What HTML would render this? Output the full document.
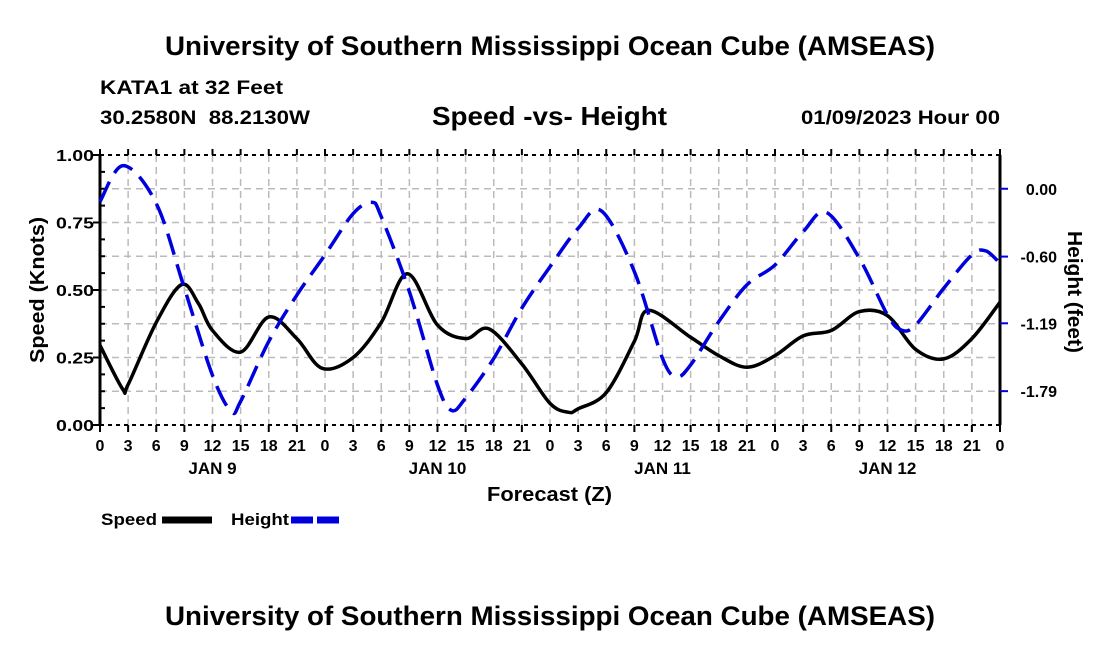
<!DOCTYPE html>
<html><head><meta charset="utf-8"><style>
body{margin:0;background:#fff;font-family:"Liberation Sans",Arial,sans-serif}
svg text{font-family:"Liberation Sans",Arial,sans-serif;font-weight:bold}
</style></head><body>
<svg id="c" width="1100" height="650" viewBox="0 0 1100 650" xmlns="http://www.w3.org/2000/svg">
<text x="165" y="55" font-size="27" textLength="770" lengthAdjust="spacingAndGlyphs">University of Southern Mississippi Ocean Cube (AMSEAS)</text>
<text x="100" y="94" font-size="19" textLength="183" lengthAdjust="spacingAndGlyphs">KATA1 at 32 Feet</text>
<text x="100" y="124" font-size="19" textLength="210" lengthAdjust="spacingAndGlyphs" xml:space="preserve">30.2580N  88.2130W</text>
<text x="432" y="125" font-size="26" textLength="235" lengthAdjust="spacingAndGlyphs">Speed -vs- Height</text>
<text x="801" y="124" font-size="19" textLength="199" lengthAdjust="spacingAndGlyphs">01/09/2023 Hour 00</text>
<g id="grid"></g>
<g id="axes"></g>
<g id="series"></g>
<text x="487" y="501" font-size="20" textLength="125" lengthAdjust="spacingAndGlyphs">Forecast (Z)</text>
<text transform="translate(44,290) rotate(-90)" text-anchor="middle" font-size="20" textLength="146" lengthAdjust="spacingAndGlyphs">Speed (Knots)</text>
<text transform="translate(1068,292) rotate(90)" text-anchor="middle" font-size="20" textLength="122" lengthAdjust="spacingAndGlyphs">Height (feet)</text>
<g>
<text x="101" y="525" font-size="17" textLength="56" lengthAdjust="spacingAndGlyphs">Speed</text>
<line x1="162" y1="520" x2="212" y2="520" stroke="#000" stroke-width="7"/>
<text x="231" y="525" font-size="17" textLength="58" lengthAdjust="spacingAndGlyphs">Height</text>
<line x1="291" y1="520" x2="343" y2="520" stroke="#0000dd" stroke-width="7" stroke-dasharray="22,4"/>
</g>
<text x="165" y="625" font-size="27" textLength="770" lengthAdjust="spacingAndGlyphs">University of Southern Mississippi Ocean Cube (AMSEAS)</text>
</svg>
<script>
const speedHours=[0,2.4,3,6,8.7,10.5,12,15,18,21,23.7,27,30,32.8,36,39,41.5,45,48,50,51,54,57,58.5,63,66,69,72,75,78,81,84,87,90,93,96];
const speedValues=[0.295,0.134,0.15,0.38,0.52,0.45,0.35,0.27,0.40,0.32,0.21,0.25,0.38,0.56,0.37,0.32,0.356,0.226,0.08,0.047,0.06,0.12,0.31,0.425,0.325,0.257,0.214,0.257,0.33,0.35,0.42,0.405,0.28,0.245,0.32,0.455];
const heightHours=[0,2.5,6,9,12,14,15,18,21,24,27,29,30,33,36,37.5,39,42,45,48,51,53.5,57,60,61.5,63,66,69,72,75,77.5,81,84,85.5,87,90,93,94.5,96];
const heightValues=[-0.114,0.204,-0.13,-0.88,-1.65,-1.97,-1.88,-1.35,-0.94,-0.585,-0.22,-0.12,-0.247,-0.91,-1.735,-1.96,-1.85,-1.50,-1.055,-0.69,-0.35,-0.197,-0.733,-1.50,-1.66,-1.558,-1.175,-0.85,-0.674,-0.38,-0.21,-0.615,-1.116,-1.25,-1.205,-0.88,-0.585,-0.55,-0.66];
const speedTicks=[0,0.25,0.5,0.75,1.0];
const heightTicks=[0.00,-0.60,-1.19,-1.79];
const hourLabels=[0,3,6,9,12,15,18,21];
const dayLabels=["JAN 9","JAN 10","JAN 11","JAN 12"];
const NS="http://www.w3.org/2000/svg";
const X0=100,X1=1000,Y0=425,Y1=155;
const xs=h=>X0+(X1-X0)*h/96;
const ys=v=>Y0-(Y0-Y1)*v;
const yh=v=>188.75-v*113.1;
function el(t,a,p){const e=document.createElementNS(NS,t);for(const k in a)e.setAttribute(k,a[k]);p.appendChild(e);return e;}
const grid=document.getElementById('grid'),axes=document.getElementById('axes'),series=document.getElementById('series');
for(let i=1;i<32;i++){const g=el('line',{x1:xs(i*3),x2:xs(i*3),y1:Y1,y2:Y0,stroke:'#bbb','stroke-width':1.5,'stroke-dasharray':'7,5'},grid);

}
for(let i=1;i<8;i++){const g=el('line',{x1:X0,x2:X1,y1:ys(i/8),y2:ys(i/8),stroke:'#bbb','stroke-width':1.5,'stroke-dasharray':'7,5'},grid);

}
el('line',{x1:X0,x2:X1,y1:Y1,y2:Y1,stroke:'#000','stroke-width':2,'stroke-dasharray':'4,4'},axes);
el('line',{x1:X0,x2:X1,y1:Y0,y2:Y0,stroke:'#000','stroke-width':2,'stroke-dasharray':'4,4'},axes);
el('line',{x1:X0,x2:X0,y1:Y1,y2:Y0,stroke:'#000','stroke-width':3},axes);
el('line',{x1:X1,x2:X1,y1:Y1,y2:Y0,stroke:'#000','stroke-width':3},axes);
for(let i=0;i<=32;i++){el('line',{x1:xs(i*3),x2:xs(i*3),y1:Y0,y2:Y0+7,stroke:'#000','stroke-width':2},axes);
el('line',{x1:xs(i*3),x2:xs(i*3),y1:Y1,y2:Y1-6,stroke:'#000','stroke-width':2},axes);
const t=el('text',{x:xs(i*3),y:451,'text-anchor':'middle','font-size':16},axes);t.textContent=hourLabels[i%8];

}
dayLabels.forEach((d,i)=>{const t=el('text',{x:xs(12+24*i),y:474,'text-anchor':'middle','font-size':17},axes);t.textContent=d;

});
for(let i=0;i<=16;i++){if(i%4)el('line',{x1:X0,x2:X0+5,y1:ys(i/16),y2:ys(i/16),stroke:'#000','stroke-width':2},axes);else el('line',{x1:X0-7,x2:X0,y1:ys(i/16),y2:ys(i/16),stroke:'#000','stroke-width':2},axes);}
speedTicks.forEach(v=>{const t=el('text',{x:94,y:ys(v)+6,'text-anchor':'end','font-size':16,textLength:38,lengthAdjust:'spacingAndGlyphs'},axes);t.textContent=v.toFixed(2);

});
heightTicks.forEach(v=>{const yy=188.75-(v/0.597)*67.5;el('line',{x1:X1,x2:X1+8,y1:yy,y2:yy,stroke:'#0000dd','stroke-width':2},axes);
const t=el('text',{x:1057,y:yy+6,'text-anchor':'end','font-size':16},axes);t.textContent=v.toFixed(2);

});
function path(hs,vs,fy){const p=hs.map((h,i)=>[xs(h),fy(vs[i])]);let d='M'+p[0][0]+','+p[0][1];
for(let i=0;i<p.length-1;i++){const a=p[i-1]||p[i],b=p[i],c=p[i+1],e=p[i+2]||c;
d+=` C${b[0]+(c[0]-a[0])/6},${b[1]+(c[1]-a[1])/6} ${c[0]-(e[0]-b[0])/6},${c[1]-(e[1]-b[1])/6} ${c[0]},${c[1]}`;}return d;}
const sp=el('path',{d:path(speedHours,speedValues,ys),fill:'none',stroke:'#000','stroke-width':3.5},series);


const hp=el('path',{d:path(heightHours,heightValues,yh),fill:'none',stroke:'#0000dd','stroke-width':3.5,'stroke-dasharray':'22,10'},series);


</script>
</body></html>
